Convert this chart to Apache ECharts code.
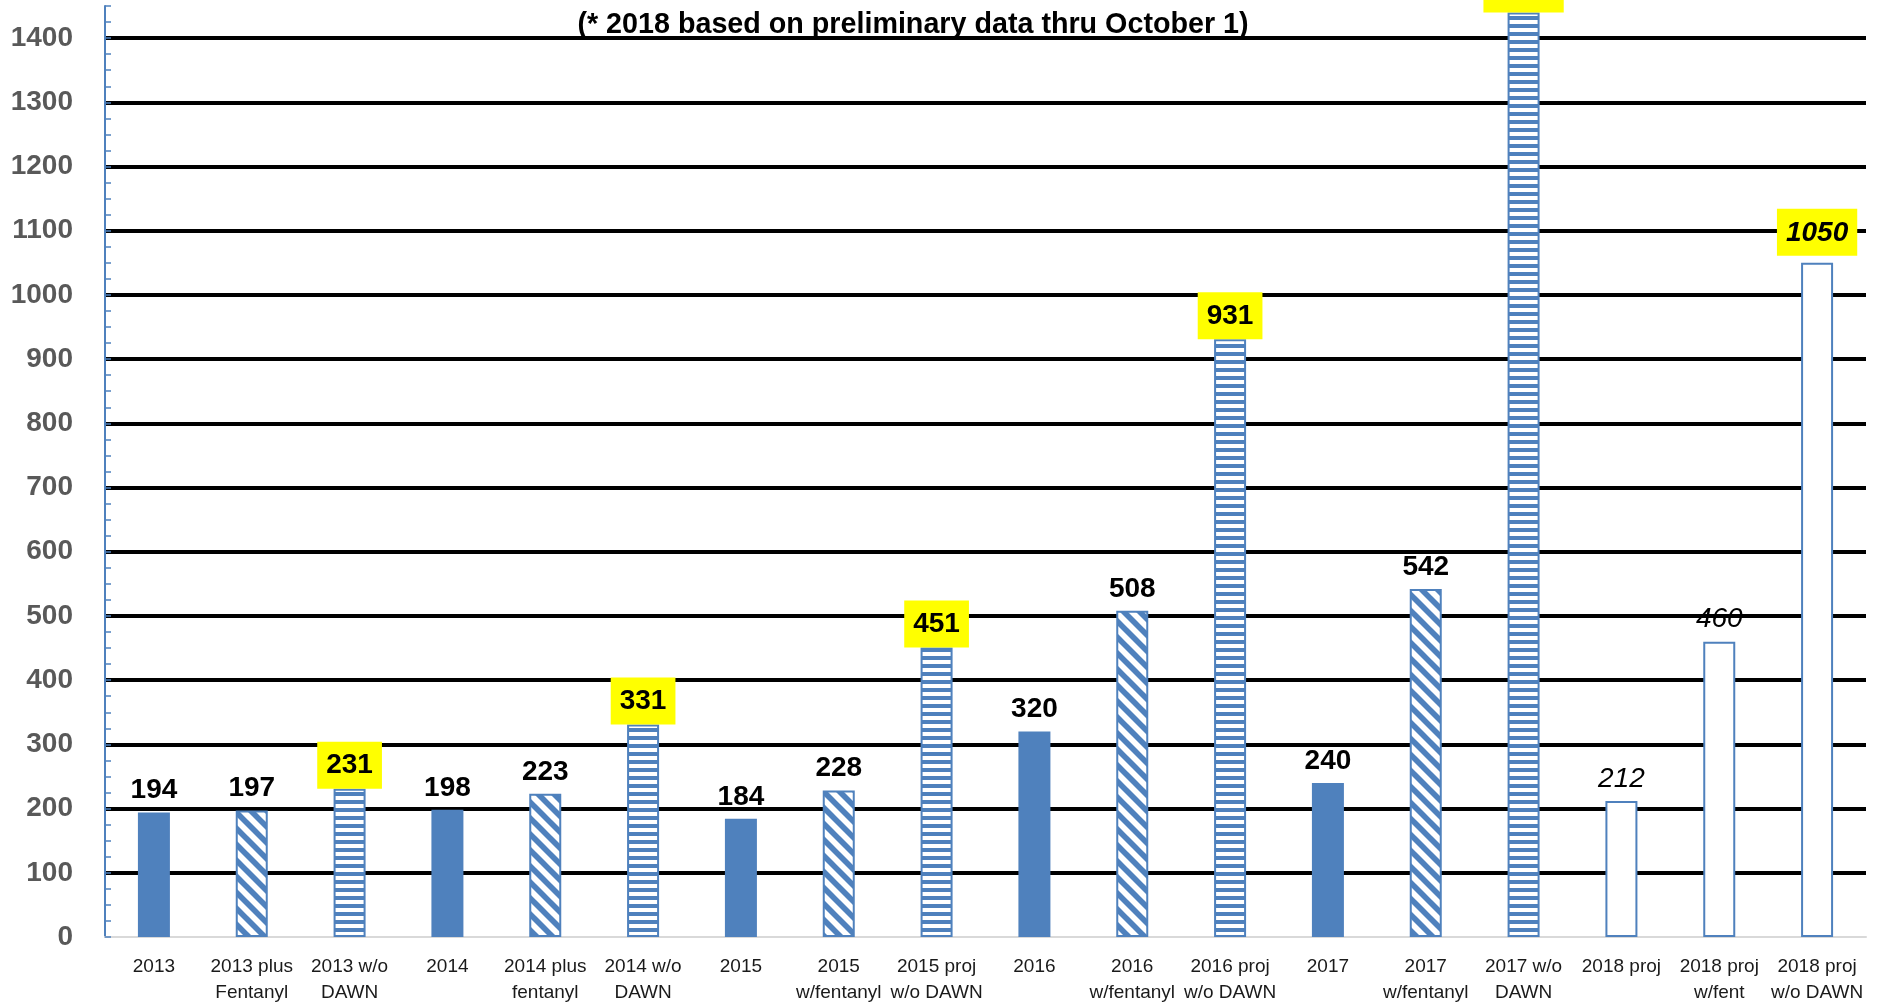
<!DOCTYPE html>
<html><head><meta charset="utf-8">
<script src="https://cdn.jsdelivr.net/npm/echarts@6/dist/echarts.min.js"></script>
<style>html,body{margin:0;padding:0;background:#fff}#c{width:1889px;height:1005px}</style>
</head><body><div id="c"></div>
<script>
// ---- data ----
const categories = ['2013','2013 plus\nFentanyl','2013 w/o\nDAWN','2014','2014 plus\nfentanyl','2014 w/o\nDAWN','2015','2015\nw/fentanyl','2015 proj\nw/o DAWN','2016','2016\nw/fentanyl','2016 proj\nw/o DAWN','2017','2017\nw/fentanyl','2017 w/o\nDAWN','2018 proj','2018 proj\nw/fent','2018 proj\nw/o DAWN'];
const values = [194,197,231,198,223,331,184,228,451,320,508,931,240,542,1440,212,460,1050];
const yTickLabels = [0,100,200,300,400,500,600,700,800,900,1000,1100,1200,1300,1400];
const yMax = 1450;
const minorStep = 25;
const noteText = '(* 2018 based on preliminary data thru October 1)';

// ---- styles ----
const BLUE = '#4f81bd';
const FONT = '"Liberation Sans", Arial, sans-serif';

function horizPattern(){
  const c = document.createElement('canvas'); c.width = 8; c.height = 8;
  const g = c.getContext('2d');
  g.fillStyle = '#fff'; g.fillRect(0,0,8,8);
  g.fillStyle = BLUE; g.fillRect(0,0,8,4);
  return c;
}
function diagPattern(){
  const s = 16;
  const c = document.createElement('canvas'); c.width = s; c.height = s;
  const g = c.getContext('2d');
  g.fillStyle = '#fff'; g.fillRect(0,0,s,s);
  g.strokeStyle = BLUE; g.lineWidth = 5.6;
  for (let k = -1; k <= 1; k++) {
    g.beginPath(); g.moveTo(k*s - 4, -4); g.lineTo(k*s + s + 4, s + 4); g.stroke();
  }
  return c;
}
const hPat = horizPattern();
const dPat = diagPattern();

const data = values.map((v, i) => {
  const name = categories[i];
  const is2018 = name.startsWith('2018');
  const noDawn = /w\/o/.test(name);
  const fent = /fent/i.test(name);
  let itemStyle;
  if (is2018) itemStyle = {color:'#fff', borderColor:BLUE, borderWidth:2};
  else if (noDawn) itemStyle = {color:{image:hPat, repeat:'repeat'}, borderColor:BLUE, borderWidth:2};
  else if (fent) itemStyle = {color:{image:dPat, repeat:'repeat'}, borderColor:BLUE, borderWidth:2};
  else itemStyle = {color:BLUE, borderWidth:0};
  let label = {show:true, position:'top', distance:8, fontSize:28, fontFamily:FONT, color:'#000',
    fontWeight: is2018 ? 'normal' : 'bold', fontStyle: is2018 ? 'italic' : 'normal'};
  if (noDawn) {
    label = Object.assign(label, {fontWeight:'bold', backgroundColor:'#ffff00', padding:[7,9,6,9], lineHeight:34, distance: is2018 ? 7 : 0});
  }
  return {value:v, itemStyle, label};
});

const nTicks = Math.round(yMax / minorStep);
const lineColors = [];
for (let i = 0; i <= nTicks; i++) {
  const v = i * minorStep;
  lineColors.push((v > 0 && yTickLabels.includes(v)) ? '#000' : 'rgba(0,0,0,0)');
}

const chart = echarts.init(document.getElementById('c'));
chart.setOption({
  animation:false,
  backgroundColor:'#fff',
  textStyle:{fontFamily:FONT},
  grid:{left:105, right:23, top:6, bottom:68, containLabel:false, outerBoundsMode:'none'},
  graphic:[{type:'text', x:913, y:25, z:100,
    style:{text:noteText, fontSize:28.7, fontWeight:'bold', fontFamily:FONT, fill:'#000', align:'center', verticalAlign:'middle', textAlign:'center', textVerticalAlign:'middle'}}],
  xAxis:{type:'category', data:categories,
    axisLine:{show:true, lineStyle:{color:'#d9d9d9', width:2}},
    axisTick:{show:false},
    axisLabel:{interval:0, fontSize:19, lineHeight:26, color:'#1a1a1a', margin:17, fontFamily:FONT},
    splitLine:{show:false}},
  yAxis:{type:'value', min:0, max:yMax, interval:minorStep,
    axisLine:{show:true, lineStyle:{color:BLUE, width:2}},
    axisTick:{show:true, inside:true, length:6, lineStyle:{color:BLUE, width:1.5}},
    axisLabel:{formatter:v => yTickLabels.includes(v) ? String(v) : '', fontSize:28, fontWeight:'bold', color:'#595959', margin:32, fontFamily:FONT},
    splitLine:{show:true, lineStyle:{color:lineColors, width:4}}},
  series:[{type:'bar', data:data, barWidth:32, z:3}]
});
</script></body></html>
